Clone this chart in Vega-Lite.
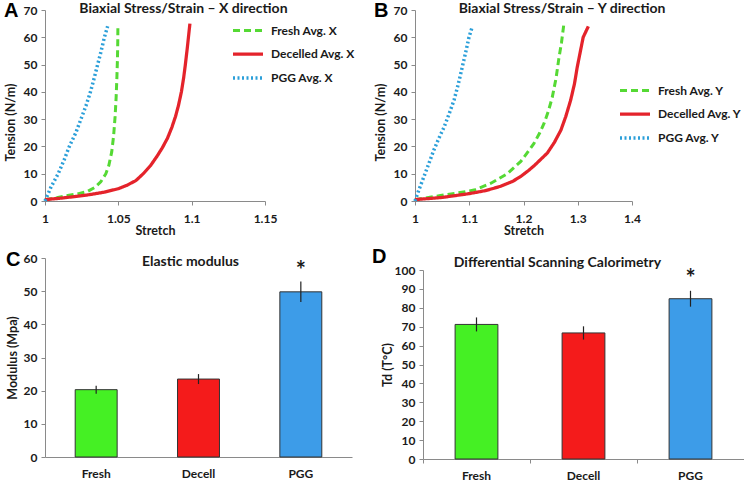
{
  "$schema": "https://vega.github.io/schema/vega-lite/v6.json",
  "background": "white",
  "padding": {"left": 4, "top": 1, "right": 0, "bottom": 0},
  "bounds": "flush",
  "align": "each",
  "columns": 2,
  "spacing": {"row": 57, "column": 63},
  "resolve": {"scale": {"color": "independent", "strokeDash": "independent", "strokeWidth": "independent", "fill": "independent", "x": "independent", "y": "independent"}},
  "config": {
    "font": "Lato",
    "view": {"stroke": null},
    "axis": {
      "grid": false,
      "domainColor": "#8a8a8a",
      "tickColor": "#8a8a8a",
      "tickSize": 4,
      "labelFont": "Lato",
      "labelFontWeight": "bold",
      "labelFontSize": 12,
      "labelColor": "#1a1a1a",
      "labelOverlap": false,
      "titleFont": "Lato",
      "titleFontWeight": "bold",
      "titleFontSize": 12.5,
      "titleColor": "#1a1a1a"
    },
    "axisY": {"labelPadding": 4, "minExtent": 22, "maxExtent": 22},
    "title": {"font": "Liberation Sans", "fontSize": 20, "fontWeight": "bold", "anchor": "start", "frame": "bounds", "color": "#000000"},
    "legend": {
      "symbolType": "stroke",
      "symbolSize": 900,
      "symbolStrokeWidth": 3,
      "labelFont": "Lato",
      "labelFontWeight": "bold",
      "labelFontSize": 12,
      "labelColor": "#1a1a1a",
      "labelOffset": 6,
      "rowPadding": -4.5
    }
  },
  "datasets": {
    "curvesX": [
      {"series": "Fresh Avg. X", "stretch": 1.000, "tension": 0.5},
      {"series": "Fresh Avg. X", "stretch": 1.008, "tension": 1.2},
      {"series": "Fresh Avg. X", "stretch": 1.0155, "tension": 2.0},
      {"series": "Fresh Avg. X", "stretch": 1.022, "tension": 2.6},
      {"series": "Fresh Avg. X", "stretch": 1.029, "tension": 3.5},
      {"series": "Fresh Avg. X", "stretch": 1.034, "tension": 5.0},
      {"series": "Fresh Avg. X", "stretch": 1.038, "tension": 7.0},
      {"series": "Fresh Avg. X", "stretch": 1.0415, "tension": 10.0},
      {"series": "Fresh Avg. X", "stretch": 1.0435, "tension": 13.0},
      {"series": "Fresh Avg. X", "stretch": 1.0455, "tension": 18.0},
      {"series": "Fresh Avg. X", "stretch": 1.0468, "tension": 24.0},
      {"series": "Fresh Avg. X", "stretch": 1.0478, "tension": 31.0},
      {"series": "Fresh Avg. X", "stretch": 1.0485, "tension": 38.0},
      {"series": "Fresh Avg. X", "stretch": 1.049, "tension": 45.0},
      {"series": "Fresh Avg. X", "stretch": 1.0494, "tension": 52.0},
      {"series": "Fresh Avg. X", "stretch": 1.0496, "tension": 58.0},
      {"series": "Fresh Avg. X", "stretch": 1.0497, "tension": 64.0},
      {"series": "Decelled Avg. X", "stretch": 1.000, "tension": 0.5},
      {"series": "Decelled Avg. X", "stretch": 1.010, "tension": 1.0},
      {"series": "Decelled Avg. X", "stretch": 1.020, "tension": 1.6},
      {"series": "Decelled Avg. X", "stretch": 1.030, "tension": 2.3},
      {"series": "Decelled Avg. X", "stretch": 1.040, "tension": 3.2},
      {"series": "Decelled Avg. X", "stretch": 1.050, "tension": 4.5},
      {"series": "Decelled Avg. X", "stretch": 1.056, "tension": 5.8},
      {"series": "Decelled Avg. X", "stretch": 1.062, "tension": 7.5},
      {"series": "Decelled Avg. X", "stretch": 1.067, "tension": 10.0},
      {"series": "Decelled Avg. X", "stretch": 1.072, "tension": 13.0},
      {"series": "Decelled Avg. X", "stretch": 1.0765, "tension": 16.5},
      {"series": "Decelled Avg. X", "stretch": 1.080, "tension": 19.5},
      {"series": "Decelled Avg. X", "stretch": 1.0835, "tension": 23.0},
      {"series": "Decelled Avg. X", "stretch": 1.0865, "tension": 27.0},
      {"series": "Decelled Avg. X", "stretch": 1.089, "tension": 31.0},
      {"series": "Decelled Avg. X", "stretch": 1.091, "tension": 35.0},
      {"series": "Decelled Avg. X", "stretch": 1.093, "tension": 40.0},
      {"series": "Decelled Avg. X", "stretch": 1.0945, "tension": 45.0},
      {"series": "Decelled Avg. X", "stretch": 1.0957, "tension": 50.0},
      {"series": "Decelled Avg. X", "stretch": 1.097, "tension": 56.0},
      {"series": "Decelled Avg. X", "stretch": 1.098, "tension": 61.0},
      {"series": "Decelled Avg. X", "stretch": 1.0988, "tension": 65.0},
      {"series": "PGG Avg. X", "stretch": 1.000, "tension": 0.0},
      {"series": "PGG Avg. X", "stretch": 1.002, "tension": 2.5},
      {"series": "PGG Avg. X", "stretch": 1.004, "tension": 5.0},
      {"series": "PGG Avg. X", "stretch": 1.0065, "tension": 7.5},
      {"series": "PGG Avg. X", "stretch": 1.009, "tension": 10.0},
      {"series": "PGG Avg. X", "stretch": 1.013, "tension": 15.0},
      {"series": "PGG Avg. X", "stretch": 1.0166, "tension": 20.0},
      {"series": "PGG Avg. X", "stretch": 1.021, "tension": 25.0},
      {"series": "PGG Avg. X", "stretch": 1.0245, "tension": 30.0},
      {"series": "PGG Avg. X", "stretch": 1.028, "tension": 35.0},
      {"series": "PGG Avg. X", "stretch": 1.031, "tension": 40.0},
      {"series": "PGG Avg. X", "stretch": 1.0335, "tension": 45.0},
      {"series": "PGG Avg. X", "stretch": 1.0359, "tension": 50.0},
      {"series": "PGG Avg. X", "stretch": 1.0383, "tension": 55.0},
      {"series": "PGG Avg. X", "stretch": 1.0405, "tension": 60.0},
      {"series": "PGG Avg. X", "stretch": 1.0427, "tension": 64.0}
    ],
    "curvesY": [
      {"series": "Fresh Avg. Y", "stretch": 1.000, "tension": 0.5},
      {"series": "Fresh Avg. Y", "stretch": 1.047, "tension": 2.0},
      {"series": "Fresh Avg. Y", "stretch": 1.080, "tension": 3.0},
      {"series": "Fresh Avg. Y", "stretch": 1.109, "tension": 4.0},
      {"series": "Fresh Avg. Y", "stretch": 1.140, "tension": 6.5},
      {"series": "Fresh Avg. Y", "stretch": 1.170, "tension": 10.0},
      {"series": "Fresh Avg. Y", "stretch": 1.195, "tension": 14.5},
      {"series": "Fresh Avg. Y", "stretch": 1.210, "tension": 18.5},
      {"series": "Fresh Avg. Y", "stretch": 1.219, "tension": 21.0},
      {"series": "Fresh Avg. Y", "stretch": 1.230, "tension": 25.0},
      {"series": "Fresh Avg. Y", "stretch": 1.238, "tension": 28.5},
      {"series": "Fresh Avg. Y", "stretch": 1.246, "tension": 33.0},
      {"series": "Fresh Avg. Y", "stretch": 1.253, "tension": 38.0},
      {"series": "Fresh Avg. Y", "stretch": 1.260, "tension": 45.0},
      {"series": "Fresh Avg. Y", "stretch": 1.265, "tension": 52.0},
      {"series": "Fresh Avg. Y", "stretch": 1.270, "tension": 58.0},
      {"series": "Fresh Avg. Y", "stretch": 1.2745, "tension": 65.0},
      {"series": "Decelled Avg. Y", "stretch": 1.000, "tension": 0.5},
      {"series": "Decelled Avg. Y", "stretch": 1.050, "tension": 1.3},
      {"series": "Decelled Avg. Y", "stretch": 1.100, "tension": 2.7},
      {"series": "Decelled Avg. Y", "stretch": 1.130, "tension": 3.8},
      {"series": "Decelled Avg. Y", "stretch": 1.158, "tension": 5.4},
      {"series": "Decelled Avg. Y", "stretch": 1.180, "tension": 7.2},
      {"series": "Decelled Avg. Y", "stretch": 1.195, "tension": 9.0},
      {"series": "Decelled Avg. Y", "stretch": 1.210, "tension": 11.3},
      {"series": "Decelled Avg. Y", "stretch": 1.220, "tension": 13.0},
      {"series": "Decelled Avg. Y", "stretch": 1.232, "tension": 15.3},
      {"series": "Decelled Avg. Y", "stretch": 1.244, "tension": 17.6},
      {"series": "Decelled Avg. Y", "stretch": 1.257, "tension": 21.5},
      {"series": "Decelled Avg. Y", "stretch": 1.269, "tension": 26.0},
      {"series": "Decelled Avg. Y", "stretch": 1.278, "tension": 31.0},
      {"series": "Decelled Avg. Y", "stretch": 1.287, "tension": 37.0},
      {"series": "Decelled Avg. Y", "stretch": 1.294, "tension": 43.0},
      {"series": "Decelled Avg. Y", "stretch": 1.299, "tension": 49.0},
      {"series": "Decelled Avg. Y", "stretch": 1.305, "tension": 55.0},
      {"series": "Decelled Avg. Y", "stretch": 1.310, "tension": 60.0},
      {"series": "Decelled Avg. Y", "stretch": 1.3195, "tension": 64.0},
      {"series": "PGG Avg. Y", "stretch": 1.000, "tension": 0.0},
      {"series": "PGG Avg. Y", "stretch": 1.008, "tension": 4.5},
      {"series": "PGG Avg. Y", "stretch": 1.0166, "tension": 9.0},
      {"series": "PGG Avg. Y", "stretch": 1.026, "tension": 14.0},
      {"series": "PGG Avg. Y", "stretch": 1.035, "tension": 18.8},
      {"series": "PGG Avg. Y", "stretch": 1.044, "tension": 23.0},
      {"series": "PGG Avg. Y", "stretch": 1.0535, "tension": 27.0},
      {"series": "PGG Avg. Y", "stretch": 1.063, "tension": 32.0},
      {"series": "PGG Avg. Y", "stretch": 1.072, "tension": 37.0},
      {"series": "PGG Avg. Y", "stretch": 1.080, "tension": 43.0},
      {"series": "PGG Avg. Y", "stretch": 1.087, "tension": 49.0},
      {"series": "PGG Avg. Y", "stretch": 1.094, "tension": 55.0},
      {"series": "PGG Avg. Y", "stretch": 1.0995, "tension": 60.0},
      {"series": "PGG Avg. Y", "stretch": 1.1057, "tension": 64.0}
    ],
    "modulus": [
      {"group": "Fresh", "value": 20.3, "err": 1.2, "sig": ""},
      {"group": "Decell", "value": 23.5, "err": 1.5, "sig": ""},
      {"group": "PGG", "value": 49.8, "err": 3.1, "sig": "*"}
    ],
    "dsc": [
      {"group": "Fresh", "value": 71.2, "err": 3.7, "sig": ""},
      {"group": "Decell", "value": 66.7, "err": 3.5, "sig": ""},
      {"group": "PGG", "value": 84.8, "err": 4.2, "sig": "*"}
    ]
  },
  "concat": [
    {
      "width": 220,
      "height": 191,
      "title": {"text": "A", "offset": -19},
      "resolve": {"axis": {"x": "independent", "y": "independent"}},
      "layer": [
        {
          "data": {"name": "curvesX"},
          "mark": {"type": "line", "strokeCap": "butt"},
          "encoding": {
            "x": {"field": "stretch", "type": "quantitative", "scale": {"domain": [1, 1.15], "zero": false, "nice": false},
                  "axis": {"values": [1, 1.05, 1.1, 1.15], "format": "~g", "title": "Stretch", "labelFlush": false, "labelOverlap": false, "labelPadding": 8, "titlePadding": 0}},
            "y": {"field": "tension", "type": "quantitative", "scale": {"domain": [0, 70], "nice": false},
                  "axis": {"values": [0, 10, 20, 30, 40, 50, 60, 70], "labelOverlap": false, "title": "Tension (N/m)", "titlePadding": 6, "titleY": 112}},
            "color": {"field": "series", "type": "nominal",
                      "scale": {"domain": ["Fresh Avg. X", "Decelled Avg. X", "PGG Avg. X"], "range": ["#55d934", "#e4232b", "#2b9fd9"]},
                      "legend": {"title": null, "orient": "none", "legendX": 186, "legendY": 4}},
            "strokeDash": {"field": "series", "type": "nominal",
                           "scale": {"domain": ["Fresh Avg. X", "Decelled Avg. X", "PGG Avg. X"], "range": [[7, 4], [1, 0], [2, 2.5]]},
                           "legend": {"title": null, "orient": "none", "legendX": 186, "legendY": 4}},
            "strokeWidth": {"field": "series", "type": "nominal",
                            "scale": {"domain": ["Fresh Avg. X", "Decelled Avg. X", "PGG Avg. X"], "range": [3, 3.5, 2.5]},
                            "legend": null}
          }
        },
        {
          "data": {"values": [{"label": "Biaxial Stress/Strain – X direction"}]},
          "mark": {"type": "text", "font": "Lato", "fontWeight": "bold", "fontSize": 14, "baseline": "alphabetic", "align": "center", "color": "#1a1a1a"},
          "encoding": {
            "x": {"datum": 1.0944, "type": "quantitative", "axis": null},
            "y": {"datum": 68.9, "type": "quantitative", "axis": null},
            "text": {"field": "label"}
          }
        }
      ]
    },
    {
      "width": 217,
      "height": 191,
      "title": {"text": "B", "offset": -19},
      "resolve": {"axis": {"x": "independent", "y": "independent"}},
      "layer": [
        {
          "data": {"name": "curvesY"},
          "mark": {"type": "line", "strokeCap": "butt"},
          "encoding": {
            "x": {"field": "stretch", "type": "quantitative", "scale": {"domain": [1, 1.4], "zero": false, "nice": false},
                  "axis": {"values": [1, 1.1, 1.2, 1.3, 1.4], "format": "~g", "title": "Stretch", "labelFlush": false, "labelOverlap": false, "labelPadding": 8, "titlePadding": 0}},
            "y": {"field": "tension", "type": "quantitative", "scale": {"domain": [0, 70], "nice": false},
                  "axis": {"values": [0, 10, 20, 30, 40, 50, 60, 70], "labelOverlap": false, "title": "Tension (N/m)", "titlePadding": 6, "titleY": 112}},
            "color": {"field": "series", "type": "nominal",
                      "scale": {"domain": ["Fresh Avg. Y", "Decelled Avg. Y", "PGG Avg. Y"], "range": ["#55d934", "#e4232b", "#2b9fd9"]},
                      "legend": {"title": null, "orient": "none", "legendX": 203, "legendY": 64}},
            "strokeDash": {"field": "series", "type": "nominal",
                           "scale": {"domain": ["Fresh Avg. Y", "Decelled Avg. Y", "PGG Avg. Y"], "range": [[7, 4], [1, 0], [2, 2.5]]},
                           "legend": {"title": null, "orient": "none", "legendX": 203, "legendY": 64}},
            "strokeWidth": {"field": "series", "type": "nominal",
                            "scale": {"domain": ["Fresh Avg. Y", "Decelled Avg. Y", "PGG Avg. Y"], "range": [3, 3.5, 2.5]},
                            "legend": null}
          }
        },
        {
          "data": {"values": [{"label": "Biaxial Stress/Strain – Y direction"}]},
          "mark": {"type": "text", "font": "Lato", "fontWeight": "bold", "fontSize": 14, "baseline": "alphabetic", "align": "center", "color": "#1a1a1a"},
          "encoding": {
            "x": {"datum": 1.271, "type": "quantitative", "axis": null},
            "y": {"datum": 68.9, "type": "quantitative", "axis": null},
            "text": {"field": "label"}
          }
        }
      ]
    },
    {
      "width": 307,
      "height": 199,
      "title": {"text": "C", "offset": -18},
      "resolve": {"axis": {"x": "independent", "y": "independent"}},
      "layer": [
        {
          "data": {"name": "modulus"},
          "encoding": {
            "x": {"field": "group", "type": "nominal", "sort": null, "scale": {"paddingInner": 0, "paddingOuter": 0},
                  "axis": {"title": null, "labelAngle": 0, "ticks": false, "labelPadding": 11.5}},
            "y": {"field": "value", "type": "quantitative", "scale": {"domain": [0, 60], "nice": false},
                  "axis": {"values": [0, 10, 20, 30, 40, 50, 60], "labelOverlap": false, "title": "Modulus (Mpa)", "titlePadding": 4}}
          },
          "layer": [
            {
              "mark": {"type": "bar", "width": {"band": 0.41}, "stroke": "#333333", "strokeWidth": 1},
              "encoding": {
                "fill": {"field": "group", "type": "nominal", "scale": {"domain": ["Fresh", "Decell", "PGG"], "range": ["#45f024", "#f41b1b", "#3d9ce8"]}, "legend": null}
              }
            },
            {
              "mark": {"type": "errorbar", "ticks": false, "color": "#222222", "thickness": 1.2},
              "encoding": {"yError": {"field": "err"}}
            },
            {
              "mark": {"type": "text", "dy": -20, "fontSize": 24, "fontWeight": "bold", "font": "Lato", "color": "#1a1a1a", "baseline": "middle"},
              "encoding": {"text": {"field": "sig"}}
            }
          ]
        },
        {
          "data": {"values": [{"label": "Elastic modulus"}]},
          "mark": {"type": "text", "font": "Lato", "fontWeight": "bold", "fontSize": 14, "baseline": "alphabetic", "align": "center", "dx": -8, "color": "#1a1a1a"},
          "encoding": {
            "x": {"datum": "Decell", "type": "nominal", "axis": null},
            "y": {"datum": 57.6, "type": "quantitative", "axis": null},
            "text": {"field": "label"}
          }
        }
      ]
    },
    {
      "width": 329,
      "height": 201,
      "title": {"text": "D", "offset": -11, "dx": -9},
      "resolve": {"axis": {"x": "independent", "y": "independent"}},
      "layer": [
        {
          "data": {"name": "dsc"},
          "encoding": {
            "x": {"field": "group", "type": "nominal", "sort": null, "scale": {"paddingInner": 0, "paddingOuter": 0, "range": [8, 329]},
                  "axis": {"title": null, "labelAngle": 0, "bandPosition": 0, "labelPadding": 7.5}},
            "y": {"field": "value", "type": "quantitative", "scale": {"domain": [0, 100], "nice": false, "range": [201, 12]},
                  "axis": {"values": [0, 10, 20, 30, 40, 50, 60, 70, 80, 90, 100], "labelOverlap": false, "title": "Td (T°C)", "titlePadding": 7, "offset": -8}}
          },
          "layer": [
            {
              "mark": {"type": "bar", "width": {"band": 0.4}, "stroke": "#333333", "strokeWidth": 1},
              "encoding": {
                "fill": {"field": "group", "type": "nominal", "scale": {"domain": ["Fresh", "Decell", "PGG"], "range": ["#45f024", "#f41b1b", "#3d9ce8"]}, "legend": null}
              }
            },
            {
              "mark": {"type": "errorbar", "ticks": false, "color": "#222222", "thickness": 1.2},
              "encoding": {"yError": {"field": "err"}}
            },
            {
              "mark": {"type": "text", "dy": -19, "fontSize": 24, "fontWeight": "bold", "font": "Lato", "color": "#1a1a1a", "baseline": "middle"},
              "encoding": {"text": {"field": "sig"}}
            }
          ]
        },
        {
          "data": {"values": [{"label": "Differential Scanning Calorimetry"}]},
          "mark": {"type": "text", "font": "Lato", "fontWeight": "bold", "fontSize": 14, "baseline": "alphabetic", "align": "center", "dx": -26, "color": "#1a1a1a"},
          "encoding": {
            "x": {"datum": "Decell", "type": "nominal", "axis": null},
            "y": {"datum": 101.7, "type": "quantitative", "axis": null},
            "text": {"field": "label"}
          }
        }
      ]
    }
  ]
}
